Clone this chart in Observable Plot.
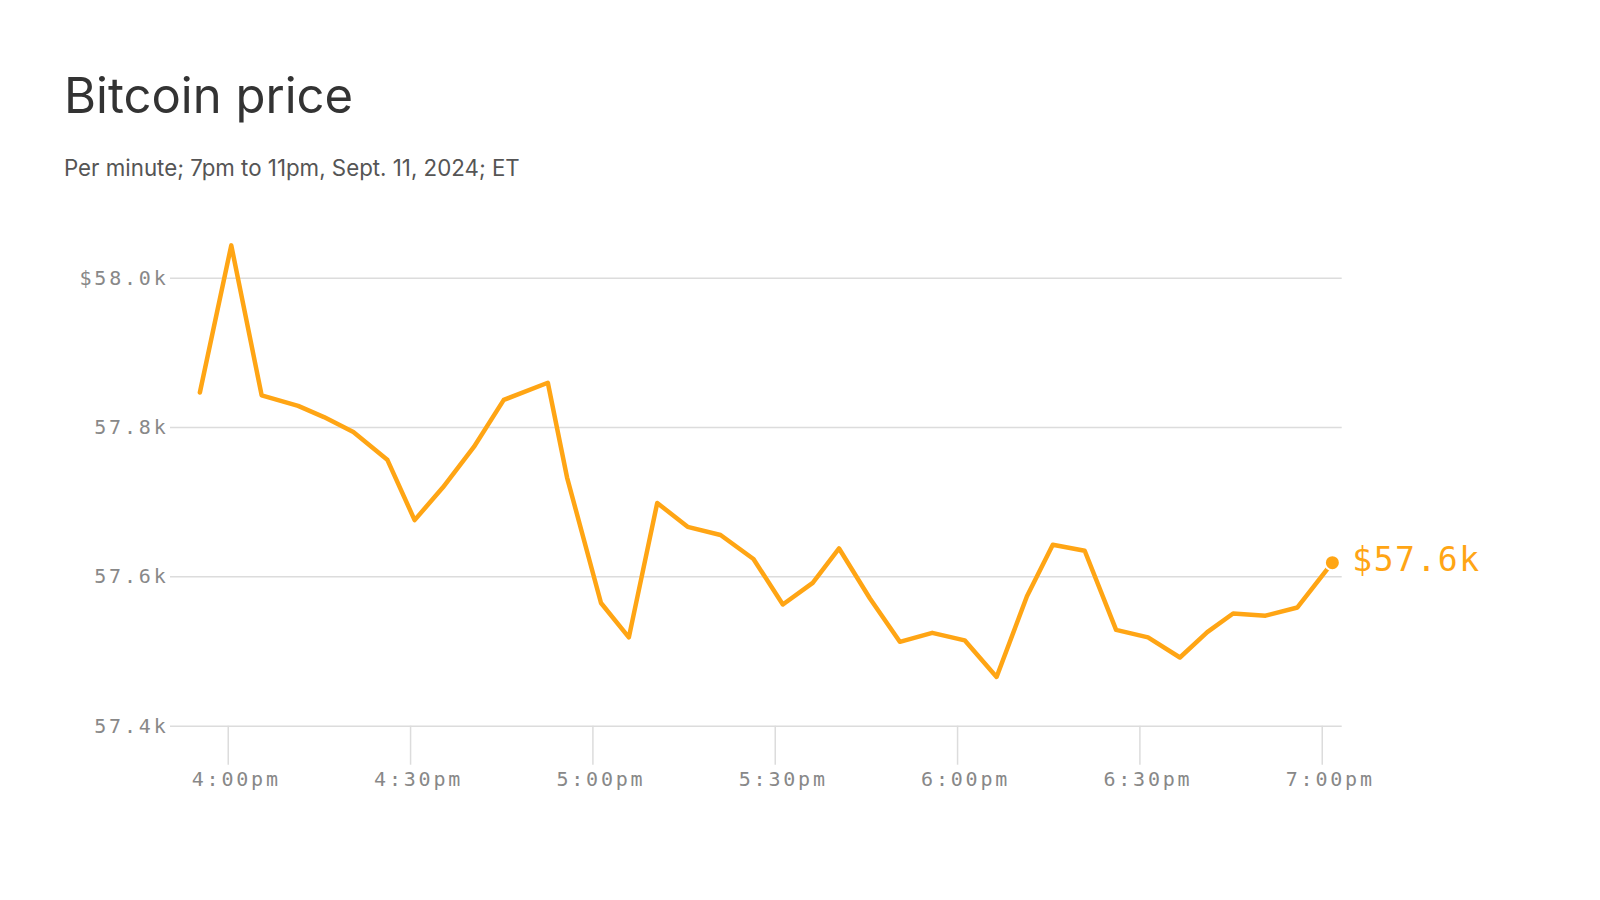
<!DOCTYPE html>
<html>
<head>
<meta charset="utf-8">
<script src="https://cdn.jsdelivr.net/npm/d3@7"></script>
<script src="https://cdn.jsdelivr.net/npm/@observablehq/plot@0.6"></script>
<style>
  html, body { margin: 0; padding: 0; background: #fff; }
  #page { position: relative; width: 1600px; height: 900px; overflow: hidden; }
  #title { position: absolute; left: 64px; top: 71px; margin: 0; font-family: Inter, "Noto Sans", sans-serif; font-weight: 400; font-size: 49px; line-height: 49px; color: #333; white-space: nowrap; }
  #subtitle { position: absolute; left: 64px; top: 157px; margin: 0; font-family: Inter, "Noto Sans", sans-serif; font-weight: 400; font-size: 22.3px; line-height: 22px; color: #555; white-space: nowrap; }
  #chart { position: absolute; left: 0; top: 200px; }
  #chart [aria-label="x-axis tick label"] text,
  #chart [aria-label="y-axis tick label"] text { letter-spacing: 2.8px; }
  #chart [aria-label="text"] text { letter-spacing: 1.5px; }
</style>
</head>
<body>
<div id="page">
  <h1 id="title">Bitcoin price</h1>
  <p id="subtitle">Per minute; 7pm to 11pm, Sept. 11, 2024; ET</p>
  <div id="chart"></div>
</div>
<script>
const times = ["15:55:20","16:00:30","16:05:30","16:11:30","16:15:45","16:20:35","16:26:10","16:30:40","16:35:20","16:40:25",
  "16:45:20","16:52:35","16:55:45","17:01:20","17:05:55","17:10:35","17:15:35","17:21:00","17:26:25","17:31:15",
  "17:36:10","17:40:30","17:45:35","17:50:30","17:55:50","18:01:10","18:06:25","18:11:25","18:15:40","18:20:55",
  "18:26:05","18:31:20","18:36:35","18:41:05","18:45:20","18:50:40","18:55:55","19:01:40"];
const prices = [57.847,58.044,57.843,57.829,57.814,57.794,57.757,57.676,57.720,57.774,
  57.837,57.860,57.733,57.565,57.519,57.699,57.667,57.656,57.624,57.563,
  57.592,57.638,57.571,57.513,57.525,57.515,57.466,57.574,57.643,57.635,
  57.529,57.519,57.492,57.526,57.551,57.548,57.559,57.619];
const yTicks = [57.4, 57.6, 57.8, 58.0];
const xDomain = ["15:50:30", "19:03:17"];
const lastLabel = "$57.6k";

const day = "2024-09-11T";
const data = times.map((t, i) => ({date: new Date(day + t), price: prices[i]}));
const last = data[data.length - 1];
const orange = "#ffa514";
const fmtTime = d3.timeFormat("%-I:%M%p");
const xTicks = d3.timeMinute.every(30);

const chart = Plot.plot({
  width: 1600,
  height: 640,
  marginLeft: 170,
  marginRight: 258.3,
  marginTop: 20,
  marginBottom: 114.3,
  style: {fontFamily: "'DejaVu Sans Mono', monospace", fontSize: "20px", background: "transparent"},
  x: {type: "time", domain: xDomain.map(t => new Date(day + t))},
  y: {domain: [57.4, 58.0], range: [525.7, 77.7]},
  marks: [
    Plot.gridY(yTicks, {stroke: "#dcdcdc", strokeOpacity: 1, strokeWidth: 1.5}),
    Plot.axisY(yTicks, {tickSize: 0, tickPadding: 2, fill: "#888", fontSize: 20,
      tickFormat: d => (d === 58 ? "$" : "") + d.toFixed(1) + "k", label: null}),
    Plot.axisX({ticks: xTicks, tickSize: 39, stroke: "#dcdcdc", strokeWidth: 1.5,
      fill: "none", tickFormat: () => "", label: null}),
    Plot.axisX({ticks: xTicks, tickSize: 0, tickPadding: 46, fill: "#888", fontSize: 20, dx: 8,
      tickFormat: d => fmtTime(d).toLowerCase(), label: null}),
    Plot.line(data, {x: "date", y: "price", stroke: orange, strokeWidth: 4.5, curve: "linear"}),
    Plot.dot([last], {x: "date", y: "price", r: 7.5, fill: orange, stroke: "#fff", strokeWidth: 2}),
    Plot.text([last], {x: "date", y: "price", text: () => lastLabel, fill: orange, fontSize: 33,
      textAnchor: "start", dx: 20, dy: -2, lineAnchor: "middle"})
  ]
});
document.getElementById("chart").appendChild(chart);
</script>
</body>
</html>
